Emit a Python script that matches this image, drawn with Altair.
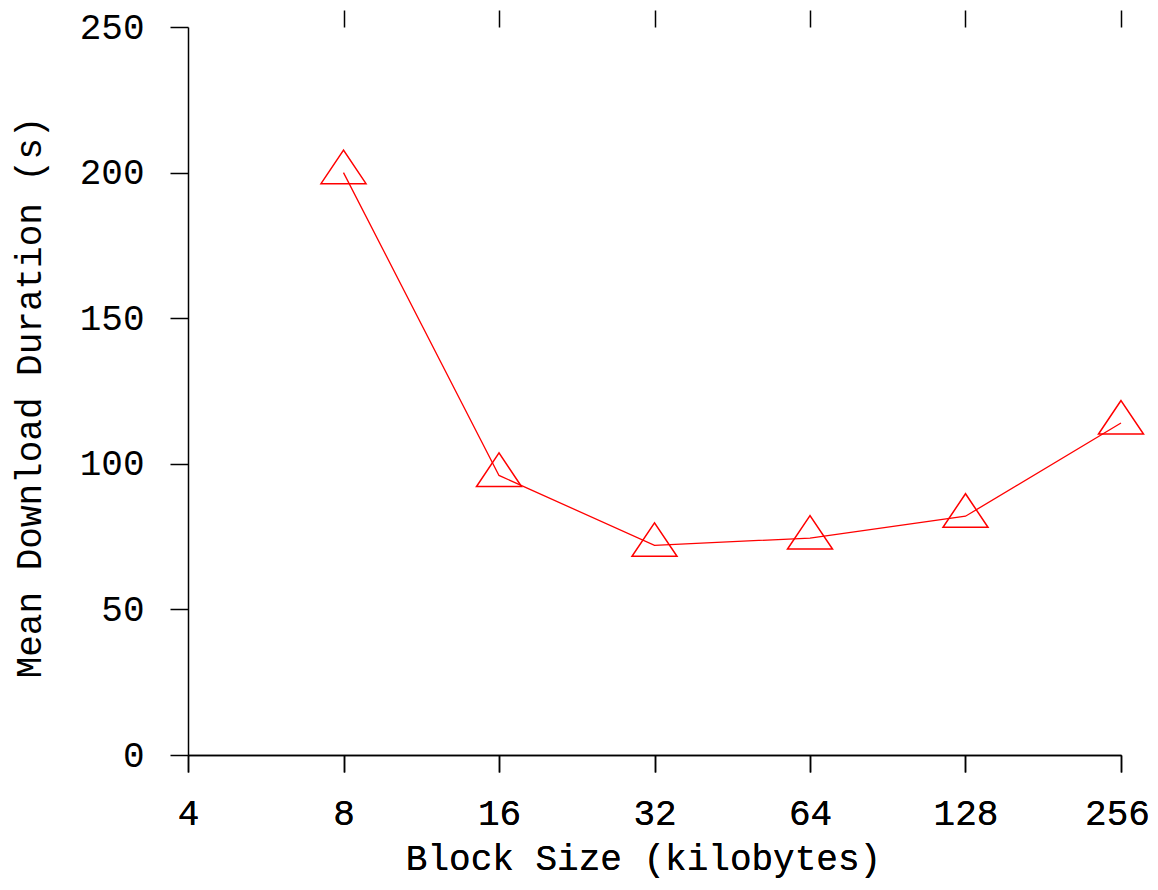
import altair as alt
import pandas as pd

# ---- data ----
block_sizes = [8, 16, 32, 64, 128, 256]
durations = [200, 96, 72, 74.5, 82, 114]
x_ticks = [4, 8, 16, 32, 64, 128, 256]
top_ticks = [8, 16, 32, 64, 128, 256]
y_ticks = [0, 50, 100, 150, 200, 250]

df = pd.DataFrame({"size": block_sizes, "duration": durations})

FONT = "Liberation Mono"
FS = 36
RED = "#ff0000"

x_scale = alt.Scale(type="log", base=2, domain=[4, 256], nice=False)
y_scale = alt.Scale(domain=[0, 250], nice=False, zero=True)

x_axis = alt.Axis(
    orient="bottom", values=x_ticks, format="d", grid=False,
    title="Block Size (kilobytes)",
    domainColor="black", domainWidth=1.5,
    tickColor="black", tickWidth=1.5, tickSize=17,
    labelFont=FONT, labelFontSize=FS, labelColor="black",
    labelPadding=24, labelFlush=False, labelOverlap=False,
    labelOffset={"condition": {"test": "datum.value == 256", "value": -4}, "value": 0},
    titleFont=FONT, titleFontSize=FS, titleFontWeight="normal", titleColor="black",
    titleX=455, titleY=114, titleBaseline="alphabetic", titleAlign="center",
)

y_axis = alt.Axis(
    orient="left", values=y_ticks, grid=False,
    title="Mean Download Duration (s)",
    domainColor="black", domainWidth=1.5,
    tickColor="black", tickWidth=1.5, tickSize=18,
    labelFont=FONT, labelFontSize=FS, labelColor="black",
    labelPadding=26, labelFlush=False, labelOverlap=False,
    titleFont=FONT, titleFontSize=FS, titleFontWeight="normal", titleColor="black",
    titleAngle=270, titleX=-148, titleY=370, titleBaseline="alphabetic", titleAlign="center",
)

top_axis = alt.Axis(
    orient="top", values=top_ticks, grid=False, domain=False, labels=False,
    title=None, tickColor="black", tickWidth=1.5, tickSize=17,
)

line = alt.Chart(df).mark_line(color=RED, strokeWidth=1.3).encode(
    x=alt.X("size:Q", scale=x_scale, axis=x_axis),
    y=alt.Y("duration:Q", scale=y_scale, axis=y_axis),
)

tri = alt.Chart(df).mark_point(
    shape="M0,-1L-1,0.49L1,0.49Z", size=2025, filled=False,
    color=RED, strokeWidth=1.5, opacity=1,
).encode(
    x=alt.X("size:Q", scale=x_scale, axis=x_axis),
    y=alt.Y("duration:Q", scale=y_scale, axis=y_axis),
)

top = alt.Chart(df).mark_point(opacity=0).encode(
    x=alt.X("size:Q", scale=x_scale, axis=top_axis),
    y=alt.Y("duration:Q", scale=y_scale, axis=y_axis),
)

chart = (
    alt.layer(line, tri, top)
    .resolve_axis(x="independent")
    .properties(
        width=933, height=728,
        autosize=alt.AutoSizeParams(type="none"),
        padding={"left": 180, "top": 19, "right": 29, "bottom": 127},
        background="white",
    )
    .configure_view(stroke=None)
)

chart.save("out.html", embed_options={"renderer": "svg", "actions": False})
